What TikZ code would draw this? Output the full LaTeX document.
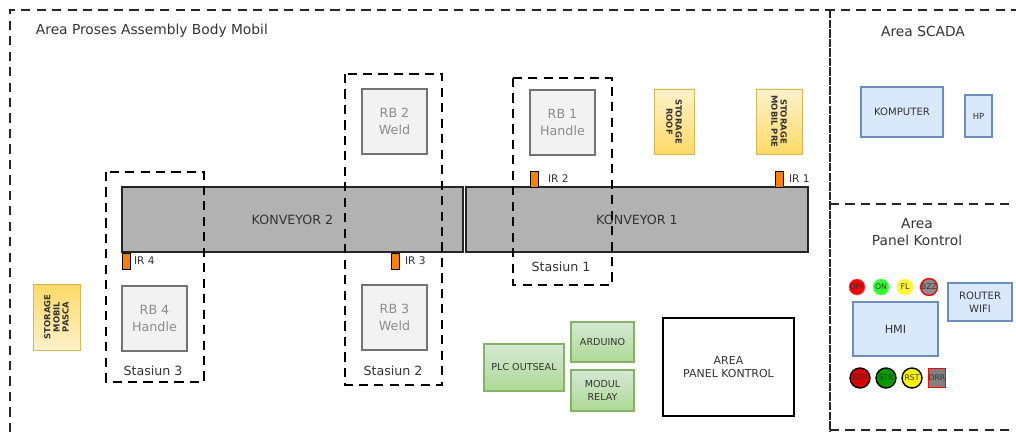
\documentclass[tikz,border=0pt]{standalone}
\usepackage{fontspec}
\setmainfont{DejaVu Sans}
\usetikzlibrary{positioning}

\definecolor{txtgray}{HTML}{333333}
\definecolor{irorange}{HTML}{FF8000}
\definecolor{stgborder}{HTML}{D6B656}
\definecolor{stgdark}{HTML}{FFD966}
\definecolor{stglight}{HTML}{FFF2CC}
\definecolor{grnborder}{HTML}{82B366}
\definecolor{grnlight}{HTML}{D5E8D4}
\definecolor{grndark}{HTML}{97D077}
\definecolor{bluborder}{HTML}{6C8EBF}
\definecolor{blufill}{HTML}{DAE8FC}

\begin{document}
\begin{tikzpicture}[x=0.025cm, y=-0.025cm,
    font=\fontsize{9}{10.5}\selectfont, text=txtgray,
    wh/.style 2 args={minimum width=#1*0.025cm, minimum height=#2*0.025cm, inner sep=0pt},
    arealine/.style={draw=black!85, line width=0.9pt, dash pattern=on 6.5pt off 4.5pt},
    stationbox/.style={draw=black, line width=0.9pt, dash pattern=on 6.5pt off 4.5pt},
    titletext/.style={font=\fontsize{9.8}{12}\selectfont, align=center},
    robotbox/.style={draw=black!55, fill=black!5, line width=0.9pt, text=black!45, align=center, font=\fontsize{9}{12}\selectfont},
    conveyor/.style={draw=black!85, fill=black!30, line width=1pt},
    irsensor/.style={draw=black, fill=irorange, line width=0.6pt, wh={8}{16}},
    irlabel/.style={font=\fontsize{7.5}{9}\selectfont, inner sep=1pt},
    storagebox/.style={draw=stgborder, line width=0.7pt, align=center, font=\fontsize{6}{6.5}\selectfont\bfseries},
    greenbox/.style={draw=grnborder, top color=grnlight, bottom color=grndark!80, line width=0.8pt, align=center, font=\fontsize{6.8}{9}\selectfont},
    bluebox/.style={draw=bluborder, fill=blufill, line width=0.8pt, align=center, font=\fontsize{7.2}{9}\selectfont},
    lamp/.style={circle, wh={16}{16}, font=\fontsize{5.5}{6}\selectfont},
    pushbtn/.style={circle, draw=black, line width=1pt, wh={20}{20}, font=\fontsize{5.5}{6}\selectfont}
    ]
        \useasboundingbox (0,0) rectangle (1016,432);

        %Areas
        \draw[arealine] (10,432) -- (10,10) -- (1016,10);
        \draw[arealine, dash pattern=on 6pt off 0.8pt] (830,10) -- (830,432);
        \draw[arealine] (830,204) -- (1016,204);
        \draw[arealine] (830,430) -- (1016,430);
        \node[titletext, anchor=west] (tproses) at (31,31) {Area Proses Assembly Body Mobil};
        \node[titletext] (tscada) at (923,31) {Area SCADA};
        \node[titletext] (tpanel) at (917,232) {Area\\Panel Kontrol};

        %Konveyor
        \node[conveyor, wh={341}{65}] (konv2) at (292.5,219.5) {KONVEYOR 2};
        \node[conveyor, wh={342}{65}] (konv1) at (637,219.5) {KONVEYOR 1};

        %Robot
        \node[robotbox, wh={65}{65}] (rb1) at (562.5,122.5) {RB 1\\Handle};
        \node[robotbox, wh={65}{65}] (rb2) at (394.5,121.5) {RB 2\\Weld};
        \node[robotbox, wh={65}{65}] (rb3) at (394.5,317.5) {RB 3\\Weld};
        \node[robotbox, wh={65}{65}] (rb4) at (154.5,318.5) {RB 4\\Handle};

        %Stasiun
        \draw[stationbox] (106,172) rectangle (204,382);
        \draw[stationbox] (345,74) rectangle (442,385);
        \draw[stationbox] (513,78) rectangle (612,285);
        \node (st1) at (561,267) {Stasiun 1};
        \node (st2) at (393,371) {Stasiun 2};
        \node (st3) at (153,371) {Stasiun 3};

        %Sensor
        \node[irsensor] (ir1) at (779,179) {};
        \node[irsensor] (ir2) at (534,179) {};
        \node[irsensor] (ir3) at (395,261) {};
        \node[irsensor] (ir4) at (126,261) {};
        \node[irlabel, right=0.1cm of ir1] (lir1) {IR 1};
        \node[irlabel, right=0.2cm of ir2] (lir2) {IR 2};
        \node[irlabel, right=0.1cm of ir3] (lir3) {IR 3};
        \node[irlabel, right=0.05cm of ir4] (lir4) {IR 4};

        %Storage
        \node[storagebox, rotate=-90, wh={65}{40}, top color=stglight, bottom color=stgdark]
            (sroof) at (674,121.5) {STORAGE\\ROOF};
        \node[storagebox, rotate=-90, wh={65}{46}, top color=stglight, bottom color=stgdark]
            (spre) at (779,121.5) {STORAGE\\MOBIL PRE};
        \node[storagebox, rotate=90, wh={66}{47}, top color=stgdark, bottom color=stglight]
            (spasca) at (56.5,317) {STORAGE\\MOBIL\\PASCA};

        %Kontroler
        \node[greenbox, wh={80}{47}] (plc) at (524,367.5) {PLC OUTSEAL};
        \node[greenbox, wh={63}{40}] (arduino) at (602.5,342) {ARDUINO};
        \node[greenbox, wh={63}{41}] (relay) at (602.5,390.5) {MODUL\\RELAY};
        \node[draw=black, line width=0.9pt, wh={131}{98}, align=center, font=\fontsize{7.8}{9.5}\selectfont]
            (panelbox) at (728.5,367) {AREA\\PANEL KONTROL};

        %SCADA
        \node[bluebox, wh={82}{50}] (komputer) at (902,112) {KOMPUTER};
        \node[bluebox, wh={27}{42}, font=\fontsize{6}{7}\selectfont] (hp) at (978.5,116) {HP};

        %Panel
        \node[bluebox, wh={85}{54}, font=\fontsize{8}{9}\selectfont] (hmi) at (895.5,329) {HMI};
        \node[bluebox, wh={64}{38}] (router) at (980,302) {ROUTER\\WIFI};
        \node[lamp, fill=red, draw=red!60] (loff) at (857,287) {OFF};
        \node[lamp, fill=green!80!white, draw=green!60] (lon) at (881,287) {ON};
        \node[lamp, fill=yellow!80!white, draw=yellow!70] (lfl) at (905,287) {FL};
        \node[lamp, fill=black!45, draw=red, line width=1pt] (lbzz) at (929,287) {BZZ};
        \node[pushbtn, fill=red!85!black] (bstp) at (860,378) {STP};
        \node[pushbtn, fill=green!60!black] (bstr) at (886,378) {STR};
        \node[pushbtn, fill=yellow] (brst) at (912,378) {RST};
        \node[draw=red, fill=black!50, line width=0.8pt, wh={7}{19}, font=\fontsize{5.5}{6}\selectfont]
            (bdrr) at (937,378) {DRR};
    \end{tikzpicture}
\end{document}
